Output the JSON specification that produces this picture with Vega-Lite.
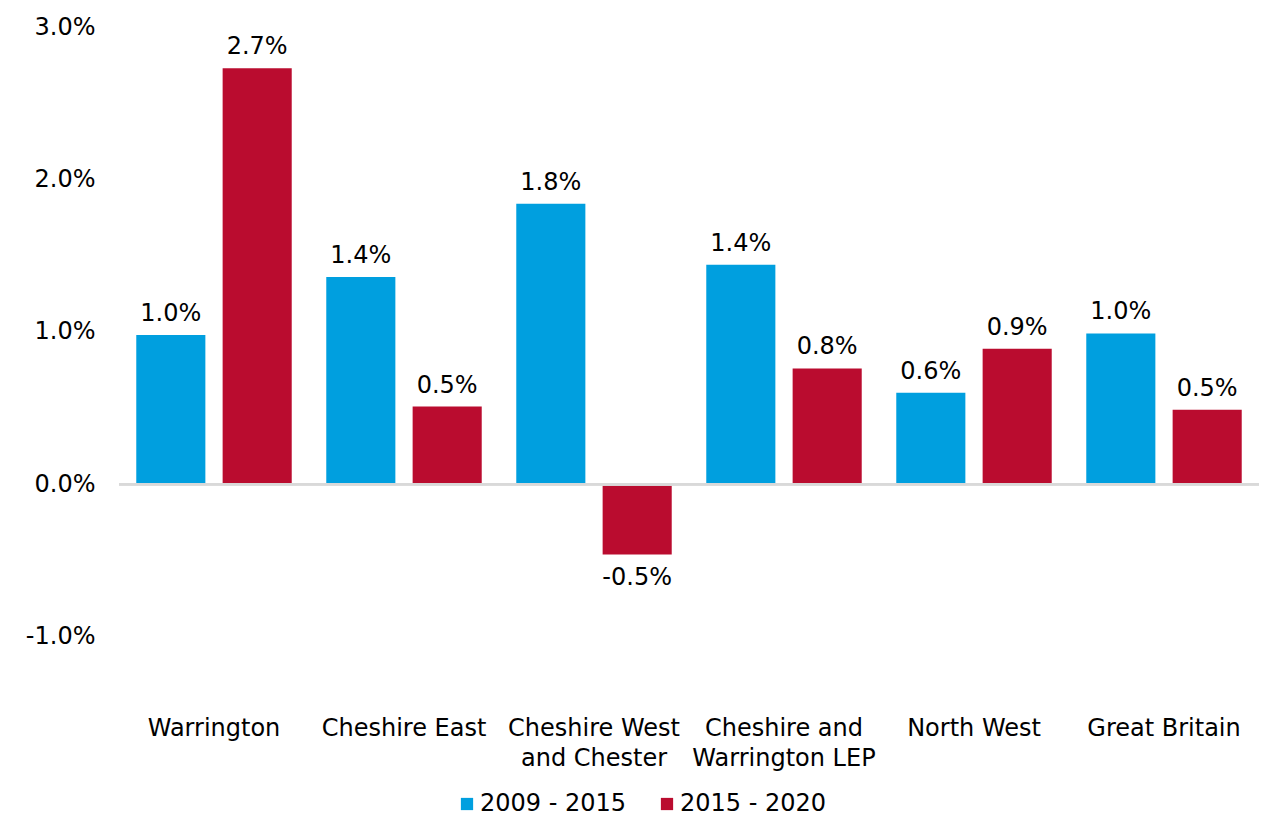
{
  "$schema": "https://vega.github.io/schema/vega-lite/v6.json",
  "autosize": {"type": "none"},
  "width": 1140,
  "height": 686,
  "padding": {"left": 119, "top": 27, "right": 20, "bottom": 119},
  "background": "white",
  "config": {
    "view": {"stroke": null},
    "font": "DejaVu Sans",
    "text": {"font": "DejaVu Sans"},
    "locale": {"number": {"decimal": ".", "thousands": ",", "grouping": [3], "currency": ["", ""], "minus": "-"}}
  },
  "data": {
    "values": [
      {"area": "Warrington", "period": "2009 - 2015", "growth": 0.0098},
      {"area": "Warrington", "period": "2015 - 2020", "growth": 0.0273},
      {"area": "Cheshire East", "period": "2009 - 2015", "growth": 0.0136},
      {"area": "Cheshire East", "period": "2015 - 2020", "growth": 0.0051},
      {"area": "Cheshire West and Chester", "period": "2009 - 2015", "growth": 0.0184},
      {"area": "Cheshire West and Chester", "period": "2015 - 2020", "growth": -0.0046},
      {"area": "Cheshire and Warrington LEP", "period": "2009 - 2015", "growth": 0.0144},
      {"area": "Cheshire and Warrington LEP", "period": "2015 - 2020", "growth": 0.0076},
      {"area": "North West", "period": "2009 - 2015", "growth": 0.006},
      {"area": "North West", "period": "2015 - 2020", "growth": 0.0089},
      {"area": "Great Britain", "period": "2009 - 2015", "growth": 0.0099},
      {"area": "Great Britain", "period": "2015 - 2020", "growth": 0.0049}
    ]
  },
  "encoding": {
    "x": {
      "field": "area", "type": "nominal", "sort": null,
      "scale": {"paddingInner": 0, "paddingOuter": 0},
      "axis": {
        "title": null, "orient": "bottom", "domain": false, "ticks": false,
        "labelAngle": 0, "labelFontSize": 24, "labelColor": "#000000",
        "labelPadding": 3, "labelLineHeight": 30, "labelLimit": 300,
        "labelFont": "DejaVu Sans",
        "labelExpr": "datum.value == 'Cheshire West and Chester' ? ['Cheshire West', 'and Chester'] : datum.value == 'Cheshire and Warrington LEP' ? ['Cheshire and', 'Warrington LEP'] : datum.value"
      }
    },
    "y": {
      "field": "growth", "type": "quantitative",
      "scale": {"domain": [-0.015, 0.03], "nice": false, "zero": false},
      "axis": {
        "title": null, "values": [-0.01, 0, 0.01, 0.02, 0.03], "format": ".1%",
        "domain": false, "ticks": false, "grid": false,
        "labelFontSize": 24, "labelColor": "#000000", "labelPadding": 24,
        "labelFont": "DejaVu Sans"
      }
    }
  },
  "layer": [
    {
      "mark": {"type": "bar"},
      "encoding": {
        "xOffset": {"field": "period", "type": "nominal", "scale": {"paddingInner": 0.2, "paddingOuter": 0.2}},
        "y2": {"datum": 0},
        "color": {
          "field": "period", "type": "nominal",
          "scale": {"domain": ["2009 - 2015", "2015 - 2020"], "range": ["#009FDF", "#BA0C2F"]},
          "legend": {
            "title": null, "orient": "none", "direction": "horizontal",
            "legendX": 336, "legendY": 765,
            "symbolType": "square", "symbolSize": 150, "symbolStrokeWidth": 0,
            "labelFontSize": 24, "labelColor": "#000000", "labelOffset": 1,
            "columnPadding": 28, "labelLimit": 300, "labelFont": "DejaVu Sans"
          }
        }
      }
    },
    {
      "mark": {"type": "rule", "color": "#d9d9d9", "strokeWidth": 2},
      "encoding": {"y": {"datum": 0}, "x": null}
    },
    {
      "transform": [{"filter": "datum.growth >= 0"}],
      "mark": {"type": "text", "baseline": "middle", "dy": -21, "fontSize": 24, "color": "#000000"},
      "encoding": {
        "xOffset": {"field": "period", "type": "nominal", "scale": {"paddingInner": 0.2, "paddingOuter": 0.2}},
        "text": {"field": "growth", "type": "quantitative", "format": ".1%"}
      }
    },
    {
      "transform": [{"filter": "datum.growth < 0"}],
      "mark": {"type": "text", "baseline": "middle", "dy": 24, "fontSize": 24, "color": "#000000"},
      "encoding": {
        "xOffset": {"field": "period", "type": "nominal", "scale": {"paddingInner": 0.2, "paddingOuter": 0.2}},
        "text": {"field": "growth", "type": "quantitative", "format": ".1%"}
      }
    }
  ]
}
